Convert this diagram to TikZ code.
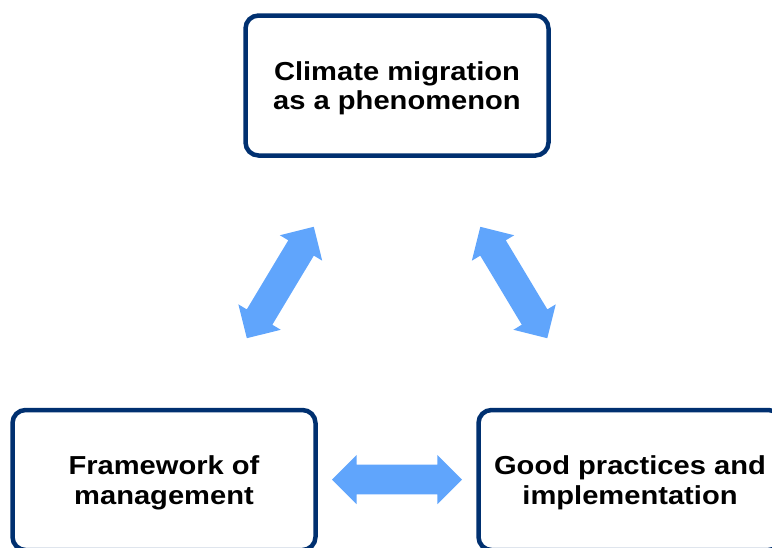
\documentclass[tikz,border=0pt]{standalone}
\usepackage{fontspec}
\newfontfamily\boxfont[FakeStretch=1.12]{Liberation Sans}
\usetikzlibrary{shapes.arrows}
\definecolor{navy}{RGB}{0,48,112}
\definecolor{arrowblue}{RGB}{96,165,252}
\tikzset{
  box/.style={draw=navy, line width=4.5pt, rounded corners=13pt, fill=white,
    minimum width=303pt, minimum height=140pt, align=center, text depth=0pt,
    font=\boxfont\bfseries\fontsize{26pt}{29.5pt}\selectfont, text=black},
  dblarrow/.style={double arrow, fill=arrowblue, draw=none,
    inner xsep=0pt, inner ysep=14.7pt,
    minimum height=130pt, minimum width=49pt, double arrow head extend=9.8pt,
    double arrow tip angle=90}
}
\begin{document}
\begin{tikzpicture}[x=1pt,y=-1pt]
\useasboundingbox (0,0) rectangle (772,547);
\clip (0,0) rectangle (772,547);
\node[box] (top) at (397,85.5) {Climate migration\\as a phenomenon};
\node[box] (left) at (164,480) {Framework of\\management};
\node[box] (right) at (630,480) {Good practices and\\implementation};
\node[dblarrow, rotate=59] (a1) at (280.3,282.5) {};
\node[dblarrow, rotate=-59] (a2) at (513.8,282.5) {};
\node[dblarrow] (a3) at (397,479.5) {};
\end{tikzpicture}
\end{document}
